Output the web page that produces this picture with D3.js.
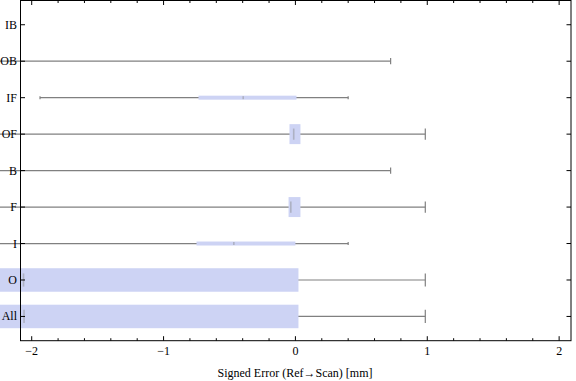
<!DOCTYPE html>
<html>
<head>
<meta charset="utf-8">
<title>Signed error box-whisker chart</title>
<script src="https://d3js.org/d3.v7.min.js"></script>
<style>
    body { margin: 0; background: #fff; }
    svg text { font-family: "Liberation Serif", "DejaVu Serif", serif; font-size: 12px; fill: #000; }
</style>
</head>
<body>
<svg id="chart" width="576" height="381"></svg>
<script>
    // categories, top to bottom
    var categories = ["IB", "OB", "IF", "OF", "B", "F", "I", "O", "All"];
    // five-number summaries (mm); null = no data
    var whiskerLow  = [null, -2.60, -1.937, -2.50, -2.60, -2.50, -2.50, -2.60, -2.60];
    var quartileLow = [null, -2.45, -0.735, -0.045, -2.45, -0.052, -0.750, -2.40, -2.40];
    var medians     = [null, -2.40, -0.396, -0.013, -2.40, -0.035, -0.467, -2.062, -2.058];
    var quartileHigh= [null, -2.35, 0.008, 0.038, -2.35, 0.038, 0.000, 0.023, 0.023];
    var whiskerHigh = [null, 0.722, 0.40, 0.985, 0.722, 0.985, 0.40, 0.985, 0.985];
    // relative sample share per category (sets box thickness)
    var sampleShare = [0, 0.47, 0.17, 0.85, 0.47, 0.85, 0.17, 1, 1];
    var xTicks = [-2, -1, 0, 1, 2];

    var padL = 20.5, padR = 571, padT = 0.5, padB = 340.7;
    var svg = d3.select("#chart");

    var x = d3.scaleLinear().domain([-2.085, 2.09]).range([padL, padR]);
    var y = d3.scalePoint().domain(categories).range([padT, padB]).padding(0.665);
    var thick = d3.scaleLinear().domain([0, 1]).range([0, 23.5]);

    var rows = categories.map(function (c, i) {
        return { cat: c, lo: whiskerLow[i], q1: quartileLow[i], med: medians[i],
                 q3: quartileHigh[i], hi: whiskerHigh[i], t: thick(sampleShare[i]) };
    }).filter(function (d) { return d.lo !== null; });

    var g = svg.append("g");
    var row = g.selectAll("g.row").data(rows).enter().append("g").attr("class", "row");

    // whisker line
    row.append("line")
        .attr("x1", function (d) { return x(d.lo); })
        .attr("x2", function (d) { return x(d.hi); })
        .attr("y1", function (d) { return y(d.cat); })
        .attr("y2", function (d) { return y(d.cat); })
        .attr("stroke", "#808080").attr("stroke-width", 1.2);
    // caps
    ["lo", "hi"].forEach(function (k) {
        row.append("line")
            .attr("x1", function (d) { return x(d[k]); })
            .attr("x2", function (d) { return x(d[k]); })
            .attr("y1", function (d) { return y(d.cat) - Math.max(1.5, d.t * 0.28); })
            .attr("y2", function (d) { return y(d.cat) + Math.max(1.5, d.t * 0.28); })
            .attr("stroke", "#808080").attr("stroke-width", 1.2);
    });
    // box
    row.append("rect")
        .attr("x", function (d) { return x(d.q1); })
        .attr("width", function (d) { return x(d.q3) - x(d.q1); })
        .attr("y", function (d) { return y(d.cat) - d.t / 2; })
        .attr("height", function (d) { return d.t; })
        .attr("fill", "#cdd3f4");
    // median
    row.append("line")
        .attr("x1", function (d) { return x(d.med); })
        .attr("x2", function (d) { return x(d.med); })
        .attr("y1", function (d) { return y(d.cat) - Math.max(1.5, d.t * 0.28); })
        .attr("y2", function (d) { return y(d.cat) + Math.max(1.5, d.t * 0.28); })
        .attr("stroke", "#888").attr("stroke-opacity", 0.45).attr("stroke-width", 1.6);

    // frame
    svg.append("rect")
        .attr("x", padL).attr("y", padT)
        .attr("width", padR - padL).attr("height", padB - padT)
        .attr("fill", "none").attr("stroke", "#000").attr("stroke-width", 1);

    // x ticks (major + minor), bottom and top
    var minor = d3.range(-2.2, 2.21, 0.2).filter(function (v) {
        return v > -2.085 && v < 2.09 && Math.abs(v - Math.round(v)) > 1e-6;
    });
    var tickG = svg.append("g").attr("stroke", "#000").attr("stroke-width", 1);
    function xt(vals, len) {
        vals.forEach(function (v) {
            tickG.append("line").attr("x1", x(v)).attr("x2", x(v))
                .attr("y1", padB).attr("y2", padB - len);
            tickG.append("line").attr("x1", x(v)).attr("x2", x(v))
                .attr("y1", padT).attr("y2", padT + len);
        });
    }
    xt(xTicks, 4.5);
    xt(minor, 2.5);

    svg.append("g").selectAll("text").data(xTicks).enter().append("text")
        .attr("x", function (d) { return x(d); })
        .attr("y", 355)
        .attr("text-anchor", "middle")
        .text(function (d) { return d < 0 ? "\u2212" + Math.abs(d) : d; });

    // y ticks left & right
    categories.forEach(function (c) {
        tickG.append("line").attr("x1", padL).attr("x2", padL + 4.5)
            .attr("y1", y(c)).attr("y2", y(c));
        tickG.append("line").attr("x1", padR).attr("x2", padR - 4.5)
            .attr("y1", y(c)).attr("y2", y(c));
    });
    svg.append("g").selectAll("text").data(categories).enter().append("text")
        .attr("x", 17)
        .attr("y", function (d) { return y(d) + 4; })
        .attr("text-anchor", "end")
        .text(function (d) { return d; });

    svg.append("text")
        .attr("x", 295).attr("y", 377)
        .attr("text-anchor", "middle")
        .text("Signed Error (Ref\u2192Scan) [mm]");
</script>
</body>
</html>
